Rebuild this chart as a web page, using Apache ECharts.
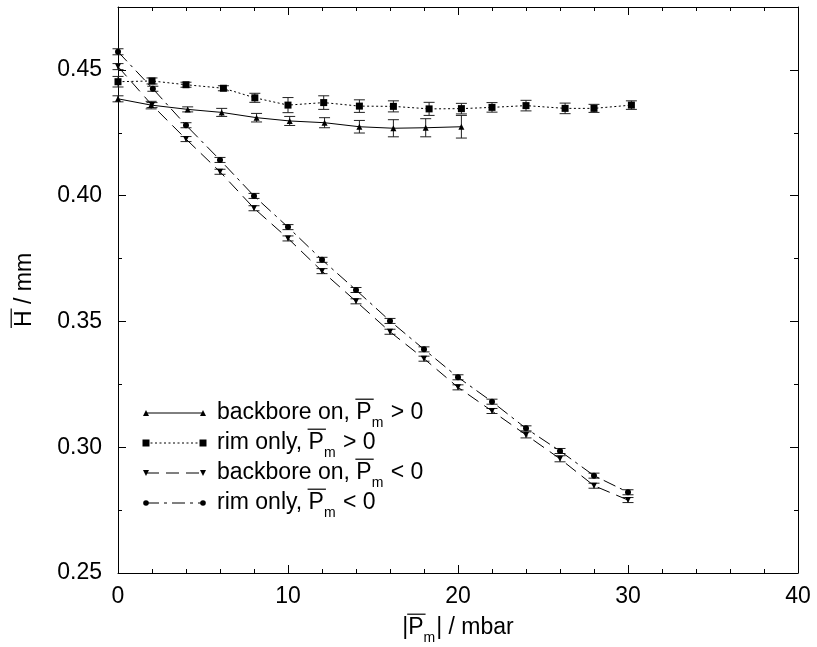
<!DOCTYPE html>
<html>
<head>
<meta charset="utf-8">
<script src="https://cdn.jsdelivr.net/npm/echarts@6/dist/echarts.min.js"></script>
<style>
html,body{margin:0;padding:0;background:#fff;}
#c{width:817px;height:647px;}
</style>
</head>
<body>
<div id="c"></div>
<script>
// ---- data ----
const seriesNames = ['backbore on, P>0', 'rim only, P>0', 'backbore on, P<0', 'rim only, P<0'];
const x1 = [0, 1.95, 4.1, 6.1, 8.15, 10.1, 12.15, 14.2, 16.2, 18.1, 20.2];
const y1 = [0.4385, 0.436, 0.4343, 0.4331, 0.431, 0.4297, 0.429, 0.4274, 0.4268, 0.427, 0.4274];
const e1 = [0.0012, 0.0015, 0.001, 0.0016, 0.0017, 0.0018, 0.002, 0.0025, 0.0034, 0.0036, 0.0045];

const x2 = [0, 2, 4, 6.2, 8.05, 10, 12.1, 14.2, 16.2, 18.3, 20.2, 22, 24, 26.3, 28, 30.2];
const y2 = [0.4453, 0.4456, 0.4441, 0.4427, 0.4389, 0.436, 0.437, 0.4356, 0.4355, 0.4345, 0.4346, 0.4351, 0.4358, 0.4347, 0.4347, 0.436];
const e2 = [0.0021, 0.0012, 0.001, 0.001, 0.0018, 0.003, 0.0027, 0.0025, 0.0022, 0.0026, 0.0021, 0.0019, 0.0021, 0.0021, 0.0016, 0.0017];

const x3 = [0, 2, 4, 6, 8, 10, 12, 14, 16, 18, 20, 22, 24, 26, 28, 30];
const y3 = [0.4513, 0.436, 0.4225, 0.4095, 0.395, 0.383, 0.370, 0.358, 0.3459, 0.3352, 0.3238, 0.3144, 0.3049, 0.2954, 0.2847, 0.279];
const e3 = [0.0012, 0.001, 0.001, 0.001, 0.001, 0.001, 0.001, 0.001, 0.001, 0.001, 0.001, 0.001, 0.0012, 0.0012, 0.001, 0.001];

const x4 = [0, 2.05, 4, 6, 8, 10, 12, 14, 16, 18, 20, 22, 24, 26, 28, 30];
const y4 = [0.4572, 0.4425, 0.428, 0.4142, 0.3999, 0.3875, 0.3745, 0.3625, 0.3502, 0.3389, 0.3278, 0.3181, 0.3075, 0.2985, 0.2887, 0.2821];
const e4 = [0.0012, 0.001, 0.001, 0.001, 0.001, 0.001, 0.001, 0.001, 0.001, 0.001, 0.001, 0.001, 0.001, 0.001, 0.001, 0.001];

const xTicks = [0, 10, 20, 30, 40];
const yTicks = [0.25, 0.30, 0.35, 0.40, 0.45];

// ---- helpers ----
const FF = '"Liberation Sans", Arial, Helvetica, sans-serif';
const FS = 23;
const mctx = document.createElement('canvas').getContext('2d');
function tw(t, s) { mctx.font = s + 'px ' + FF; return mctx.measureText(t).width; }

function richPieces(parts, x, y, size) {
  const els = [];
  let cx = x;
  parts.forEach(p => {
    const s = p.sub ? Math.round(size * 0.6) : size;
    const dy = p.sub ? size * 0.45 : 0;
    els.push({
      type: 'text', x: cx, y: y + dy,
      style: { text: p.t, font: s + 'px ' + FF, fill: '#000', align: 'left', verticalAlign: 'middle' },
      silent: true
    });
    const w = tw(p.t, s);
    if (p.over) {
      els.push({
        type: 'line', silent: true,
        shape: { x1: cx - 1, y1: y - size * 0.6, x2: cx + w + 2, y2: y - size * 0.6 },
        style: { stroke: '#000', lineWidth: 1.2 }
      });
    }
    cx += w + (p.sub ? 1 : 0);
  });
  return { els, width: cx - x };
}

function pairs(xs, ys) { return xs.map((x, i) => [x, ys[i]]); }
function errs(xs, ys, es) { return xs.map((x, i) => [x, ys[i] - es[i], ys[i] + es[i]]); }

function errRender(params, api) {
  const x = api.value(0);
  const p1 = api.coord([x, api.value(1)]);
  const p2 = api.coord([x, api.value(2)]);
  const cw = 5.5;
  const st = { stroke: '#222', lineWidth: 1 };
  return {
    type: 'group', silent: true,
    children: [
      { type: 'line', shape: { x1: p1[0], y1: p1[1], x2: p2[0], y2: p2[1] }, style: st },
      { type: 'line', shape: { x1: p1[0] - cw, y1: p1[1], x2: p1[0] + cw, y2: p1[1] }, style: st },
      { type: 'line', shape: { x1: p2[0] - cw, y1: p2[1], x2: p2[0] + cw, y2: p2[1] }, style: st }
    ]
  };
}

const styles = [
  { symbol: 'triangle', size: 6, rot: 0, dash: 'solid' },
  { symbol: 'rect', size: 7, rot: 0, dash: [2, 2.5] },
  { symbol: 'triangle', size: 6, rot: 180, dash: [13, 7] },
  { symbol: 'circle', size: 6, rot: 0, dash: [13, 5, 3, 5] }
];
const dataSets = [[x1, y1, e1], [x2, y2, e2], [x3, y3, e3], [x4, y4, e4]];

const series = [];
dataSets.forEach((d, i) => {
  series.push({
    type: 'custom', renderItem: errRender, data: errs(d[0], d[1], d[2]),
    xAxisIndex: 0, yAxisIndex: 0, z: 2, silent: true
  });
});
dataSets.forEach((d, i) => {
  const s = styles[i];
  series.push({
    name: seriesNames[i], type: 'line', data: pairs(d[0], d[1]),
    xAxisIndex: 0, yAxisIndex: 0, z: 3,
    symbol: s.symbol, symbolSize: s.size, symbolRotate: s.rot, showSymbol: true,
    itemStyle: { color: '#000' },
    lineStyle: { color: '#000', width: 1, type: s.dash },
    animation: false, silent: true
  });
});

// ---- legend (graphic) ----
const legendTexts = [
  [{ t: 'backbore on, ' }, { t: 'P', over: true }, { t: 'm', sub: true }, { t: ' > 0' }],
  [{ t: 'rim only, ' }, { t: 'P', over: true }, { t: 'm', sub: true }, { t: ' > 0' }],
  [{ t: 'backbore on, ' }, { t: 'P', over: true }, { t: 'm', sub: true }, { t: ' < 0' }],
  [{ t: 'rim only, ' }, { t: 'P', over: true }, { t: 'm', sub: true }, { t: ' < 0' }]
];
const graphics = [];
const LX0 = 146, LX1 = 203, LY0 = 413, LDY = 30, TX = 217;
function markerEl(i, x, y) {
  const s = styles[i];
  if (s.symbol === 'circle') return { type: 'circle', shape: { cx: x, cy: y, r: 2.8 }, style: { fill: '#000' }, silent: true };
  if (s.symbol === 'rect') return { type: 'rect', shape: { x: x - 3.5, y: y - 3.5, width: 7, height: 7 }, style: { fill: '#000' }, silent: true };
  const h = 3;
  const pts = s.rot ? [[x - h, y - h], [x + h, y - h], [x, y + h]] : [[x - h, y + h], [x + h, y + h], [x, y - h]];
  return { type: 'polygon', shape: { points: pts }, style: { fill: '#000' }, silent: true };
}
legendTexts.forEach((parts, i) => {
  const y = LY0 + i * LDY;
  const dash = styles[i].dash;
  graphics.push({
    type: 'line', silent: true,
    shape: { x1: LX0, y1: y, x2: LX1, y2: y },
    style: { stroke: '#000', lineWidth: 1, lineDash: dash === 'solid' ? null : dash }
  });
  graphics.push(markerEl(i, LX0, y));
  graphics.push(markerEl(i, LX1, y));
  richPieces(parts, TX, y, FS).els.forEach(e => graphics.push(e));
});

// x axis title
(function () {
  const parts = [{ t: '|' }, { t: 'P', over: true }, { t: 'm', sub: true }, { t: '| / mbar' }];
  const tmp = richPieces(parts, 0, 0, FS);
  const start = 458 - tmp.width / 2;
  richPieces(parts, start, 628, FS).els.forEach(e => graphics.push(e));
})();
// y axis title (rotated)
(function () {
  const parts = [{ t: 'H', over: true }, { t: ' / mm' }];
  const tmp = richPieces(parts, 0, 0, FS);
  const r = richPieces(parts, -tmp.width / 2, 0, FS);
  graphics.push({ type: 'group', x: 25, y: 290, rotation: Math.PI / 2, children: r.els, silent: true });
})();

const axisCommon = {
  axisLine: { show: true, lineStyle: { color: '#000', width: 1 } },
  splitLine: { show: false },
  minorSplitLine: { show: false }
};

const option = {
  animation: false,
  backgroundColor: '#fff',
  grid: { left: 118, right: 19, top: 7, bottom: 74, containLabel: false },
  xAxis: [
    Object.assign({}, axisCommon, {
      type: 'value', position: 'bottom', min: xTicks[0], max: xTicks[xTicks.length - 1], interval: 10,
      axisTick: { show: true, inside: true, length: 8, lineStyle: { color: '#000' } },
      minorTick: { show: true, splitNumber: 5, length: 4, lineStyle: { color: '#000' } },
      axisLabel: { show: true, fontSize: FS, fontFamily: FF, color: '#000', margin: 12 }
    }),
    Object.assign({}, axisCommon, {
      type: 'value', position: 'top', min: xTicks[0], max: xTicks[xTicks.length - 1], interval: 10,
      axisTick: { show: true, inside: true, length: 8, lineStyle: { color: '#000' } },
      minorTick: { show: true, splitNumber: 5, length: 4, lineStyle: { color: '#000' } },
      axisLabel: { show: false }
    })
  ],
  yAxis: [
    Object.assign({}, axisCommon, {
      type: 'value', position: 'left', min: yTicks[0], max: 0.475, interval: 0.05,
      axisTick: { show: true, inside: true, length: 8, lineStyle: { color: '#000' } },
      axisLabel: {
        show: true, fontSize: FS, fontFamily: FF, color: '#000', margin: 16, showMaxLabel: false,
        formatter: v => (yTicks.some(t => Math.abs(t - v) < 1e-6) ? v.toFixed(2) : '')
      }
    }),
    Object.assign({}, axisCommon, {
      type: 'value', position: 'left', min: yTicks[0], max: 0.475, interval: 0.025,
      axisLine: { show: false },
      axisTick: { show: true, inside: true, length: 4, lineStyle: { color: '#000' } },
      axisLabel: { show: false }
    }),
    Object.assign({}, axisCommon, {
      type: 'value', position: 'right', min: yTicks[0], max: 0.475, interval: 0.05,
      axisTick: { show: true, inside: true, length: 8, lineStyle: { color: '#000' } },
      axisLabel: { show: false }
    }),
    Object.assign({}, axisCommon, {
      type: 'value', position: 'right', min: yTicks[0], max: 0.475, interval: 0.025,
      axisLine: { show: false },
      axisTick: { show: true, inside: true, length: 4, lineStyle: { color: '#000' } },
      axisLabel: { show: false }
    })
  ],
  series: series,
  graphic: graphics
};

const chart = echarts.init(document.getElementById('c'), null, { renderer: 'canvas' });
chart.setOption(option);
</script>
</body>
</html>
